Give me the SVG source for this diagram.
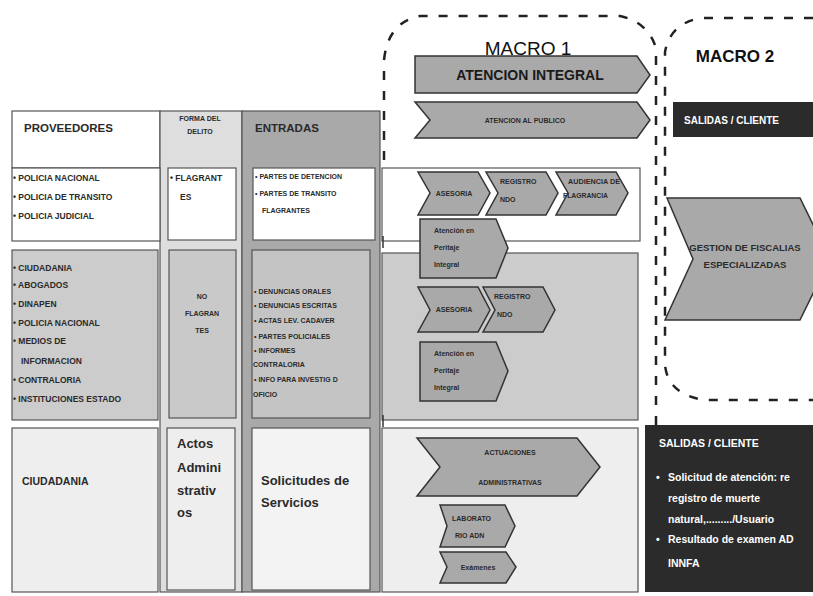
<svg xmlns="http://www.w3.org/2000/svg" width="813" height="596" viewBox="0 0 813 596">
<style>
text{font-family:"Liberation Sans",Arial,sans-serif;font-weight:bold;fill:#2a2a2a}
.cell{stroke:#555;stroke-width:1.2}
.chev{fill:#a9a9a9;stroke:#333;stroke-width:1.5}
.dash{fill:none;stroke:#222;stroke-width:2.5;stroke-dasharray:9 11}
.s9{font-size:8.5px}
.s8{font-size:7px}
.s13{font-size:13px}
.w{fill:#fff}
</style>
<rect x="0" y="0" width="813" height="596" fill="#fff"/>
<g id="table">
  <rect class="cell" x="12" y="111" width="148" height="57" fill="#fff"/>
  <rect class="cell" x="160" y="111" width="82" height="481" fill="#dedede"/>
  <rect class="cell" x="242" y="111" width="138" height="481" fill="#a9a9a9"/>
  <rect class="cell" x="12" y="168" width="148" height="73" fill="#fff"/>
  <rect class="cell" x="12" y="250" width="146" height="170" fill="#cccccc"/>
  <rect class="cell" x="12" y="428" width="146" height="164" fill="#eeeeee"/>
</g>
<g id="proveedores">
  <text x="24" y="132" style="font-size:11.5px">PROVEEDORES</text>
</g>
<g id="forma-delito">
  <text x="200" y="121" class="s8" text-anchor="middle">FORMA DEL</text>
  <text x="200" y="134" class="s8" text-anchor="middle">DELITO</text>
</g>
<g id="entradas">
  <text x="255" y="132" style="font-size:11.5px">ENTRADAS</text>
</g>
<g id="prov-row1">
  <text x="13" y="181" class="s9">• POLICIA NACIONAL</text>
  <text x="13" y="200" class="s9">• POLICIA DE TRANSITO</text>
  <text x="13" y="219" class="s9">• POLICIA JUDICIAL</text>
</g>
<g id="forma-row1">
  <rect class="cell" x="168" y="168" width="68" height="72" fill="#fff"/>
  <text x="170" y="181" class="s9">• FLAGRANT</text>
  <text x="180" y="200" class="s9">ES</text>
</g>
<g id="entradas-row1">
  <rect class="cell" x="253" y="168" width="122" height="72" fill="#fff"/>
  <text x="255" y="179" class="s8">• PARTES DE DETENCION</text>
  <text x="255" y="196" class="s8">• PARTES DE TRANSITO</text>
  <text x="262" y="213" class="s8">FLAGRANTES</text>
</g>
<g id="prov-row2">
  <text x="13" y="271" class="s9">• CIUDADANIA</text>
  <text x="13" y="288" class="s9">• ABOGADOS</text>
  <text x="13" y="307" class="s9">• DINAPEN</text>
  <text x="13" y="326" class="s9">• POLICIA NACIONAL</text>
  <text x="13" y="344" class="s9">• MEDIOS DE</text>
  <text x="21" y="364" class="s9">INFORMACION</text>
  <text x="13" y="383" class="s9">• CONTRALORIA</text>
  <text x="13" y="402" class="s9">• INSTITUCIONES ESTADO</text>
</g>
<g id="forma-row2">
  <rect class="cell" x="169" y="250" width="67" height="168" fill="#c9c9c9"/>
  <text x="202" y="299" class="s8" text-anchor="middle">NO</text>
  <text x="202" y="316" class="s8" text-anchor="middle">FLAGRAN</text>
  <text x="202" y="333" class="s8" text-anchor="middle">TES</text>
</g>
<g id="entradas-row2">
  <rect class="cell" x="252" y="250" width="118" height="168" fill="#c4c4c4"/>
  <text x="254" y="294" class="s8">• DENUNCIAS ORALES</text>
  <text x="254" y="308" class="s8">• DENUNCIAS ESCRITAS</text>
  <text x="254" y="323" class="s8">• ACTAS LEV. CADAVER</text>
  <text x="254" y="339" class="s8">• PARTES POLICIALES</text>
  <text x="254" y="353" class="s8">• INFORMES</text>
  <text x="253" y="367" class="s8">CONTRALORIA</text>
  <text x="254" y="382" class="s8">• INFO PARA INVESTIG D</text>
  <text x="253" y="397" class="s8">OFICIO</text>
</g>
<g id="prov-row3">
  <text x="22" y="485" style="font-size:10.5px">CIUDADANIA</text>
</g>
<g id="forma-row3">
  <rect class="cell" x="167" y="428" width="68" height="162" fill="#eeeeee"/>
  <text x="177" y="448" class="s13">Actos</text>
  <text x="177" y="472" class="s13">Admini</text>
  <text x="177" y="495" class="s13">strativ</text>
  <text x="177" y="517" class="s13">os</text>
</g>
<g id="entradas-row3">
  <rect class="cell" x="252" y="428" width="118" height="162" fill="#f3f3f3"/>
  <text x="261" y="485" class="s13">Solicitudes de</text>
  <text x="261" y="507" class="s13">Servicios</text>
</g>
<g id="proceso-boxes">
  <rect class="cell" x="382" y="168" width="258" height="73" fill="#fff"/>
  <rect class="cell" x="382" y="253" width="256" height="167" fill="#cccccc"/>
  <rect class="cell" x="382" y="428" width="256" height="164" fill="#eeeeee"/>
  <line x1="383" y1="236" x2="383" y2="248" stroke="#333" stroke-width="1.5"/>
  <line x1="383" y1="415" x2="383" y2="427" stroke="#333" stroke-width="1.5"/>
</g>
<g id="macro-outlines">
  <path class="dash" d="M384,160 L384,60 Q388,22 420,16 L620,16 Q648,22 656,48 L656,596"/>
  <path class="dash" d="M813,18 L700,18 Q670,24 665,52 L665,365 Q668,395 705,400 L813,400"/>
</g>
<g id="macro1-title">
  <text x="528" y="55" text-anchor="middle" style="font-size:19px;font-weight:normal;fill:#111">MACRO 1</text>
</g>
<g id="macro2-title">
  <text x="735" y="62" text-anchor="middle" style="font-size:17px;fill:#111">MACRO 2</text>
</g>
<g id="atencion-integral">
  <path class="chev" d="M415,56 L637,56 L650,75 L637,93 L415,93 Z"/>
  <text x="530" y="80" text-anchor="middle" style="font-size:14px;fill:#1a1a1a">ATENCION  INTEGRAL</text>
</g>
<g id="atencion-publico">
  <path class="chev" d="M415,102 L637,102 L650,120 L637,138 L415,138 L430,120 Z"/>
  <text x="525" y="123" text-anchor="middle" class="s8">ATENCION AL PUBLICO</text>
</g>
<g id="asesoria-1">
  <path class="chev" d="M418,172 L478,172 L490,193 L478,215 L418,215 L430,193 Z"/>
  <text x="454" y="196" text-anchor="middle" class="s8">ASESORIA</text>
</g>
<g id="registro-1">
  <path class="chev" d="M486,172 L546,172 L558,193 L546,215 L486,215 L498,193 Z"/>
  <text x="500" y="184" class="s8">REGISTRO</text>
  <text x="500" y="202" class="s8">NDO</text>
</g>
<g id="audiencia-1">
  <path class="chev" d="M556,172 L616,172 L628,193 L616,215 L556,215 L568,193 Z"/>
  <text x="568" y="184" class="s8" textLength="52" lengthAdjust="spacingAndGlyphs">AUDIENCIA DE</text>
  <text x="563" y="198" class="s8" textLength="45" lengthAdjust="spacingAndGlyphs">FLAGRANCIA</text>
</g>
<g id="peritaje-1">
  <path class="chev" d="M420,219 L496,219 L508,248 L496,278 L420,278 Z"/>
  <text x="434" y="233" class="s8">Atención en</text>
  <text x="434" y="250" class="s8">Peritaje</text>
  <text x="434" y="267" class="s8">Integral</text>
</g>
<g id="asesoria-2">
  <path class="chev" d="M418,287 L478,287 L490,310 L478,332 L418,332 L430,310 Z"/>
  <text x="454" y="312" text-anchor="middle" class="s8">ASESORIA</text>
</g>
<g id="registro-2">
  <path class="chev" d="M483,287 L543,287 L555,310 L543,332 L483,332 L495,310 Z"/>
  <text x="494" y="299" class="s8">REGISTRO</text>
  <text x="497" y="317" class="s8">NDO</text>
</g>
<g id="peritaje-2">
  <path class="chev" d="M420,342 L496,342 L508,371 L496,401 L420,401 Z"/>
  <text x="434" y="356" class="s8">Atención en</text>
  <text x="434" y="373" class="s8">Peritaje</text>
  <text x="434" y="390" class="s8">Integral</text>
</g>
<g id="actuaciones">
  <path class="chev" d="M417,438 L577,438 L600,467 L577,496 L417,496 L440,467 Z"/>
  <text x="510" y="455" text-anchor="middle" class="s8">ACTUACIONES</text>
  <text x="510" y="485" text-anchor="middle" class="s8">ADMINISTRATIVAS</text>
</g>
<g id="laboratorio">
  <path class="chev" d="M440,505 L505,505 L515,526 L505,547 L440,547 L447,526 Z"/>
  <text x="452" y="521" class="s8">LABORATO</text>
  <text x="455" y="538" class="s8">RIO ADN</text>
</g>
<g id="examenes">
  <path class="chev" d="M440,552 L506,552 L516,567 L506,583 L440,583 L447,567 Z"/>
  <text x="478" y="570" text-anchor="middle" class="s8">Exámenes</text>
</g>
<g id="salidas-1">
  <rect x="673" y="102" width="140" height="35" fill="#2b2b2b"/>
  <text x="684" y="124" class="w" style="font-size:10px">SALIDAS / CLIENTE</text>
</g>
<g id="gestion-fiscalias">
  <path class="chev" d="M667,198 L800,198 L830,259 L800,320 L665,320 L693,259 Z"/>
  <text x="745" y="251" text-anchor="middle" style="font-size:9.5px">GESTION DE FISCALIAS</text>
  <text x="745" y="268" text-anchor="middle" style="font-size:9.5px">ESPECIALIZADAS</text>
</g>
<g id="salidas-2">
  <rect x="645" y="425" width="168" height="167" fill="#2b2b2b"/>
  <text x="659" y="447" class="w" style="font-size:10.5px">SALIDAS / CLIENTE</text>
  <text x="656" y="481" class="w" style="font-size:10.5px">•</text>
  <text x="668" y="481" class="w" style="font-size:10.5px">Solicitud de atención: re</text>
  <text x="668" y="502" class="w" style="font-size:10.5px">registro de muerte</text>
  <text x="668" y="523" class="w" style="font-size:10.5px">natural,........./Usuario</text>
  <text x="656" y="543" class="w" style="font-size:10.5px">•</text>
  <text x="668" y="543" class="w" style="font-size:10.5px">Resultado de examen AD</text>
  <text x="668" y="567" class="w" style="font-size:10.5px">INNFA</text>
</g>
<g id="connectors"></g>
</svg>
